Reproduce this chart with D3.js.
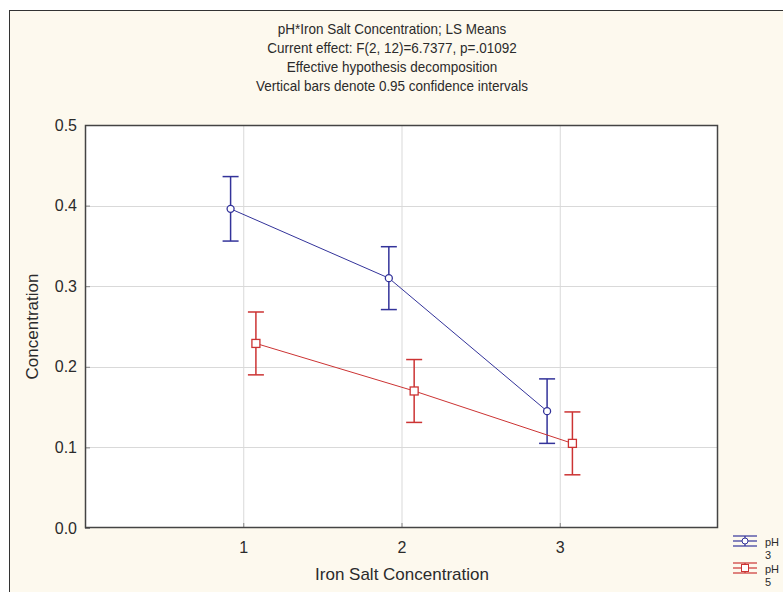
<!DOCTYPE html>
<html>
<head>
<meta charset="utf-8">
<script src="https://cdn.jsdelivr.net/npm/d3@7"></script>
<style>
  html, body { margin: 0; padding: 0; background: #fff; }
  svg { display: block; font-family: "Liberation Sans", Arial, sans-serif; }
</style>
</head>
<body>
<svg width="783" height="592"></svg>
<script>
// data
const levels = [1, 2, 3];
const groups = ["pH 3", "pH 5"];
const ph3Means = [0.396, 0.310, 0.145];
const ph5Means = [0.229, 0.170, 0.105];
const ph3Half = [0.040, 0.039, 0.040];
const ph5Half = [0.039, 0.039, 0.039];
const yTicks = [0.0, 0.1, 0.2, 0.3, 0.4, 0.5];
const titleLines = [
  "pH*Iron Salt Concentration; LS Means",
  "Current effect: F(2, 12)=6.7377, p=.01092",
  "Effective hypothesis decomposition",
  "Vertical bars denote 0.95 confidence intervals"
];

const svg = d3.select("svg");
const W = 783, H = 592;
const plot = { left: 85, top: 125, right: 718, bottom: 528 };
const ink = "#2b2b2b";

// frame background
svg.append("rect")
  .attr("x", 9.5).attr("y", 10.5)
  .attr("width", W).attr("height", H)
  .attr("fill", "#fdf9ee")
  .attr("stroke", "#333")
  .attr("stroke-width", 1);

const x = d3.scaleLinear().domain([0, 4]).range([plot.left, plot.right]);
const y = d3.scaleLinear().domain([0, 0.5]).range([plot.bottom, plot.top]);

// title (narrow, tall lettering like the original)
svg.append("g").selectAll("text")
  .data(titleLines)
  .enter().append("text")
  .attr("transform", (d, i) => `translate(392,${34 + i * 19}) scale(0.9,1)`)
  .attr("text-anchor", "middle")
  .attr("font-size", "15px")
  .attr("fill", ink)
  .text(d => d);

// plot area
svg.append("rect")
  .attr("x", plot.left).attr("y", plot.top)
  .attr("width", plot.right - plot.left)
  .attr("height", plot.bottom - plot.top)
  .attr("fill", "#fff");

// grid
svg.append("g").selectAll("line")
  .data(levels)
  .enter().append("line")
  .attr("x1", d => x(d) + 0.5).attr("x2", d => x(d) + 0.5)
  .attr("y1", plot.top).attr("y2", plot.bottom)
  .attr("stroke", "#d9d9d9");

svg.append("g").selectAll("line")
  .data(yTicks.slice(1, -1))
  .enter().append("line")
  .attr("x1", plot.left).attr("x2", plot.right)
  .attr("y1", d => Math.round(y(d)) + 0.5).attr("y2", d => Math.round(y(d)) + 0.5)
  .attr("stroke", "#d9d9d9");

// axes
const xAxis = d3.axisBottom(x).tickValues(levels).tickFormat(d3.format("d"))
  .tickSizeInner(-5).tickSizeOuter(0).tickPadding(14);
const yAxis = d3.axisLeft(y).tickValues(yTicks).tickFormat(d3.format(".1f"))
  .tickSizeInner(-5).tickSizeOuter(0).tickPadding(8);

const gx = svg.append("g").attr("transform", `translate(0,${plot.bottom})`).call(xAxis);
const gy = svg.append("g").attr("transform", `translate(${plot.left},0)`).call(yAxis);
[gx, gy].forEach(g => {
  g.select(".domain").remove();
  g.selectAll("text").attr("font-size", "16px").attr("fill", ink)
    .attr("font-family", "Liberation Sans, Arial, sans-serif");
  g.selectAll("line").attr("stroke", "#888");
});

// border
svg.append("rect")
  .attr("x", plot.left + 0.5).attr("y", plot.top + 0.5)
  .attr("width", plot.right - plot.left - 1)
  .attr("height", plot.bottom - plot.top - 1)
  .attr("fill", "none")
  .attr("stroke", "#444")
  .attr("stroke-width", 1.5);

// axis titles
svg.append("text")
  .attr("x", 402)
  .attr("y", 580)
  .attr("text-anchor", "middle")
  .attr("font-size", "17px").attr("fill", ink)
  .text("Iron Salt Concentration");

svg.append("text")
  .attr("transform", `translate(38,${(plot.top + plot.bottom) / 2}) rotate(-90)`)
  .attr("text-anchor", "middle")
  .attr("font-size", "17px").attr("fill", ink)
  .text("Concentration");

// series
const series = [
  { name: groups[0], means: ph3Means, half: ph3Half, color: "#33339a", shift: -0.08, shape: "circle" },
  { name: groups[1], means: ph5Means, half: ph5Half, color: "#cc3333", shift: 0.08, shape: "square" }
];

const cap = 8;
series.forEach(s => {
  const pts = levels.map((l, i) => ({ x: x(l + s.shift), m: s.means[i], h: s.half[i] }));
  const g = svg.append("g");

  g.append("path")
    .attr("d", d3.line().x(d => d.x).y(d => y(d.m))(pts))
    .attr("fill", "none")
    .attr("stroke", s.color)
    .attr("stroke-width", 1);

  const eb = g.selectAll(".eb").data(pts).enter().append("g");
  eb.append("line")
    .attr("x1", d => d.x).attr("x2", d => d.x)
    .attr("y1", d => y(d.m + d.h)).attr("y2", d => y(d.m - d.h))
    .attr("stroke", s.color).attr("stroke-width", 1.5);
  eb.append("line")
    .attr("x1", d => d.x - cap).attr("x2", d => d.x + cap)
    .attr("y1", d => y(d.m + d.h)).attr("y2", d => y(d.m + d.h))
    .attr("stroke", s.color).attr("stroke-width", 1.5);
  eb.append("line")
    .attr("x1", d => d.x - cap).attr("x2", d => d.x + cap)
    .attr("y1", d => y(d.m - d.h)).attr("y2", d => y(d.m - d.h))
    .attr("stroke", s.color).attr("stroke-width", 1.5);

  if (s.shape === "circle") {
    g.selectAll(".mk").data(pts).enter().append("circle")
      .attr("cx", d => d.x).attr("cy", d => y(d.m)).attr("r", 3.5)
      .attr("fill", "#fff").attr("stroke", s.color).attr("stroke-width", 1.3);
  } else {
    g.selectAll(".mk").data(pts).enter().append("rect")
      .attr("x", d => d.x - 4).attr("y", d => y(d.m) - 4)
      .attr("width", 8).attr("height", 8)
      .attr("fill", "#fff").attr("stroke", s.color).attr("stroke-width", 1.3);
  }
});

// legend
series.forEach((s, i) => {
  const cy = 541 + i * 27;
  const cx = 745;
  const lg = svg.append("g");
  [-5, 0, 5].forEach(dy => {
    lg.append("line")
      .attr("x1", cx - 12).attr("x2", cx + 12)
      .attr("y1", cy + dy).attr("y2", cy + dy)
      .attr("stroke", s.color).attr("stroke-width", 1.2);
  });
  lg.append("line")
    .attr("x1", cx).attr("x2", cx).attr("y1", cy - 5).attr("y2", cy + 5)
    .attr("stroke", s.color).attr("stroke-width", 1.2);
  if (s.shape === "circle") {
    lg.append("circle").attr("cx", cx).attr("cy", cy).attr("r", 3)
      .attr("fill", "#fff").attr("stroke", s.color);
  } else {
    lg.append("rect").attr("x", cx - 3.5).attr("y", cy - 3.5).attr("width", 7).attr("height", 7)
      .attr("fill", "#fff").attr("stroke", s.color);
  }
  const parts = s.name.split(" ");
  parts.forEach((p, j) => {
    lg.append("text")
      .attr("x", 765).attr("y", cy + 5 + j * 13)
      .attr("font-size", "11px").attr("fill", ink)
      .text(p);
  });
});
</script>
</body>
</html>
